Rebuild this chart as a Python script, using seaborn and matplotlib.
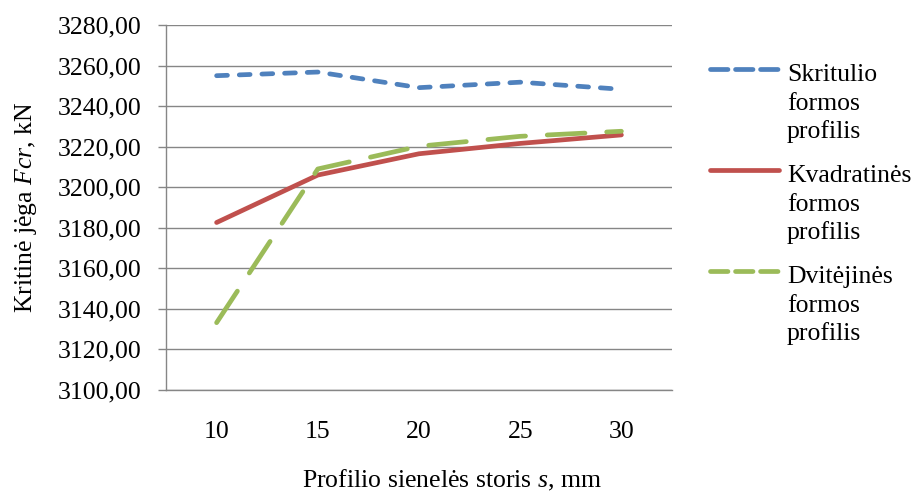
import matplotlib
matplotlib.use("Agg")
import matplotlib.pyplot as plt
import seaborn as sns
import pandas as pd
from matplotlib.lines import Line2D

# Wall thickness of the profile, mm
thickness = ["10", "15", "20", "25", "30"]

# Critical force Fcr, kN, for each cross-section shape
circular = [3255.0, 3256.8, 3249.1, 3251.8, 3248.3]
square = [3182.6, 3206.0, 3216.5, 3221.6, 3225.8]
i_beam = [3133.2, 3209.0, 3220.2, 3225.1, 3227.6]

series_labels = [
    ["Skritulio", "formos", "profilis"],
    ["Kvadratinės", "formos", "profilis"],
    ["Dvitėjinės", "formos", "profilis"],
]
series_colors = ["#4F81BD", "#C0504D", "#9BBB59"]
series_dashes = [(2.3, 2.5), None, (8.0, 4.6)]

y_ticks = [3100, 3120, 3140, 3160, 3180, 3200, 3220, 3240, 3260, 3280]

sns.set_theme(style="white")
plt.rcParams["font.family"] = ["Liberation Serif", "DejaVu Serif"]
plt.rcParams["mathtext.fontset"] = "custom"
plt.rcParams["mathtext.rm"] = "Liberation Serif"
plt.rcParams["mathtext.it"] = "Liberation Serif:italic"

FS = 18.5
LW = 3.4
GRID = "#868686"
W, H = 916, 493

fig = plt.figure(figsize=(W / 100, H / 100), dpi=100)
fig.patch.set_facecolor("white")
ax = fig.add_axes([166 / W, 1 - 390 / H, 506 / W, 365 / H])

df = pd.DataFrame({"s": thickness, "circ": circular, "sq": square, "ib": i_beam})
lines = []
for col, color, dashes in zip(["circ", "sq", "ib"], series_colors, series_dashes):
    sns.lineplot(data=df, x="s", y=col, ax=ax, color=color, linewidth=LW,
                 sort=False, legend=False)
    ln = ax.lines[-1]
    ln.set_solid_capstyle("round")
    ln.set_dash_capstyle("round")
    ln.set_solid_joinstyle("round")
    if dashes is not None:
        ln.set_dashes(dashes)
    lines.append(ln)

ax.set_xlim(-0.5, len(thickness) - 0.5)
ax.set_ylim(y_ticks[0], y_ticks[-1])
ax.set_yticks(y_ticks)
ax.set_yticklabels([f"{v:.2f}".replace(".", ",") for v in y_ticks], fontsize=FS)
ax.set_xticks(range(len(thickness)))
ax.set_xticklabels(thickness, fontsize=FS)

ax.yaxis.grid(True, color=GRID, linewidth=1.0)
ax.set_axisbelow(True)
for side in ["top", "right"]:
    ax.spines[side].set_visible(False)
for side in ["left", "bottom"]:
    ax.spines[side].set_color(GRID)
    ax.spines[side].set_linewidth(1.0)

ax.tick_params(axis="y", which="major", direction="out", length=5.5, width=1.0,
               color=GRID, pad=12, labelcolor="black", left=True)
ax.tick_params(axis="x", which="major", length=0, pad=22.5, labelcolor="black")

ax.set_ylabel(r"Kritinė jėga $Fcr$, kN", fontsize=FS, color="black")
ax.yaxis.set_label_coords(-0.251, 0.5)
ax.set_xlabel(r"Profilio sienelės storis $s$, mm", fontsize=FS, color="black")
ax.xaxis.set_label_coords(0.565, -0.213)

# Legend drawn beside the plot: short line sample plus a three-line label
legend_x0, legend_x1, text_x = 710, 779, 787
first_baselines = [81, 182, 283]
line_step = 28.7
for ln, words, base in zip(lines, series_labels, first_baselines):
    yl = 1 - (base - 12) / H
    h = Line2D([legend_x0 / W, legend_x1 / W], [yl, yl], transform=fig.transFigure,
               color=ln.get_color(), linewidth=ln.get_linewidth(),
               linestyle=ln.get_linestyle(), solid_capstyle="round",
               dash_capstyle="round")
    fig.add_artist(h)
    for k, word in enumerate(words):
        fig.text(text_x / W, 1 - (base + k * line_step) / H, word, fontsize=FS,
                 ha="left", va="baseline", color="black")

fig.savefig("out.png", dpi=100, facecolor="white")
